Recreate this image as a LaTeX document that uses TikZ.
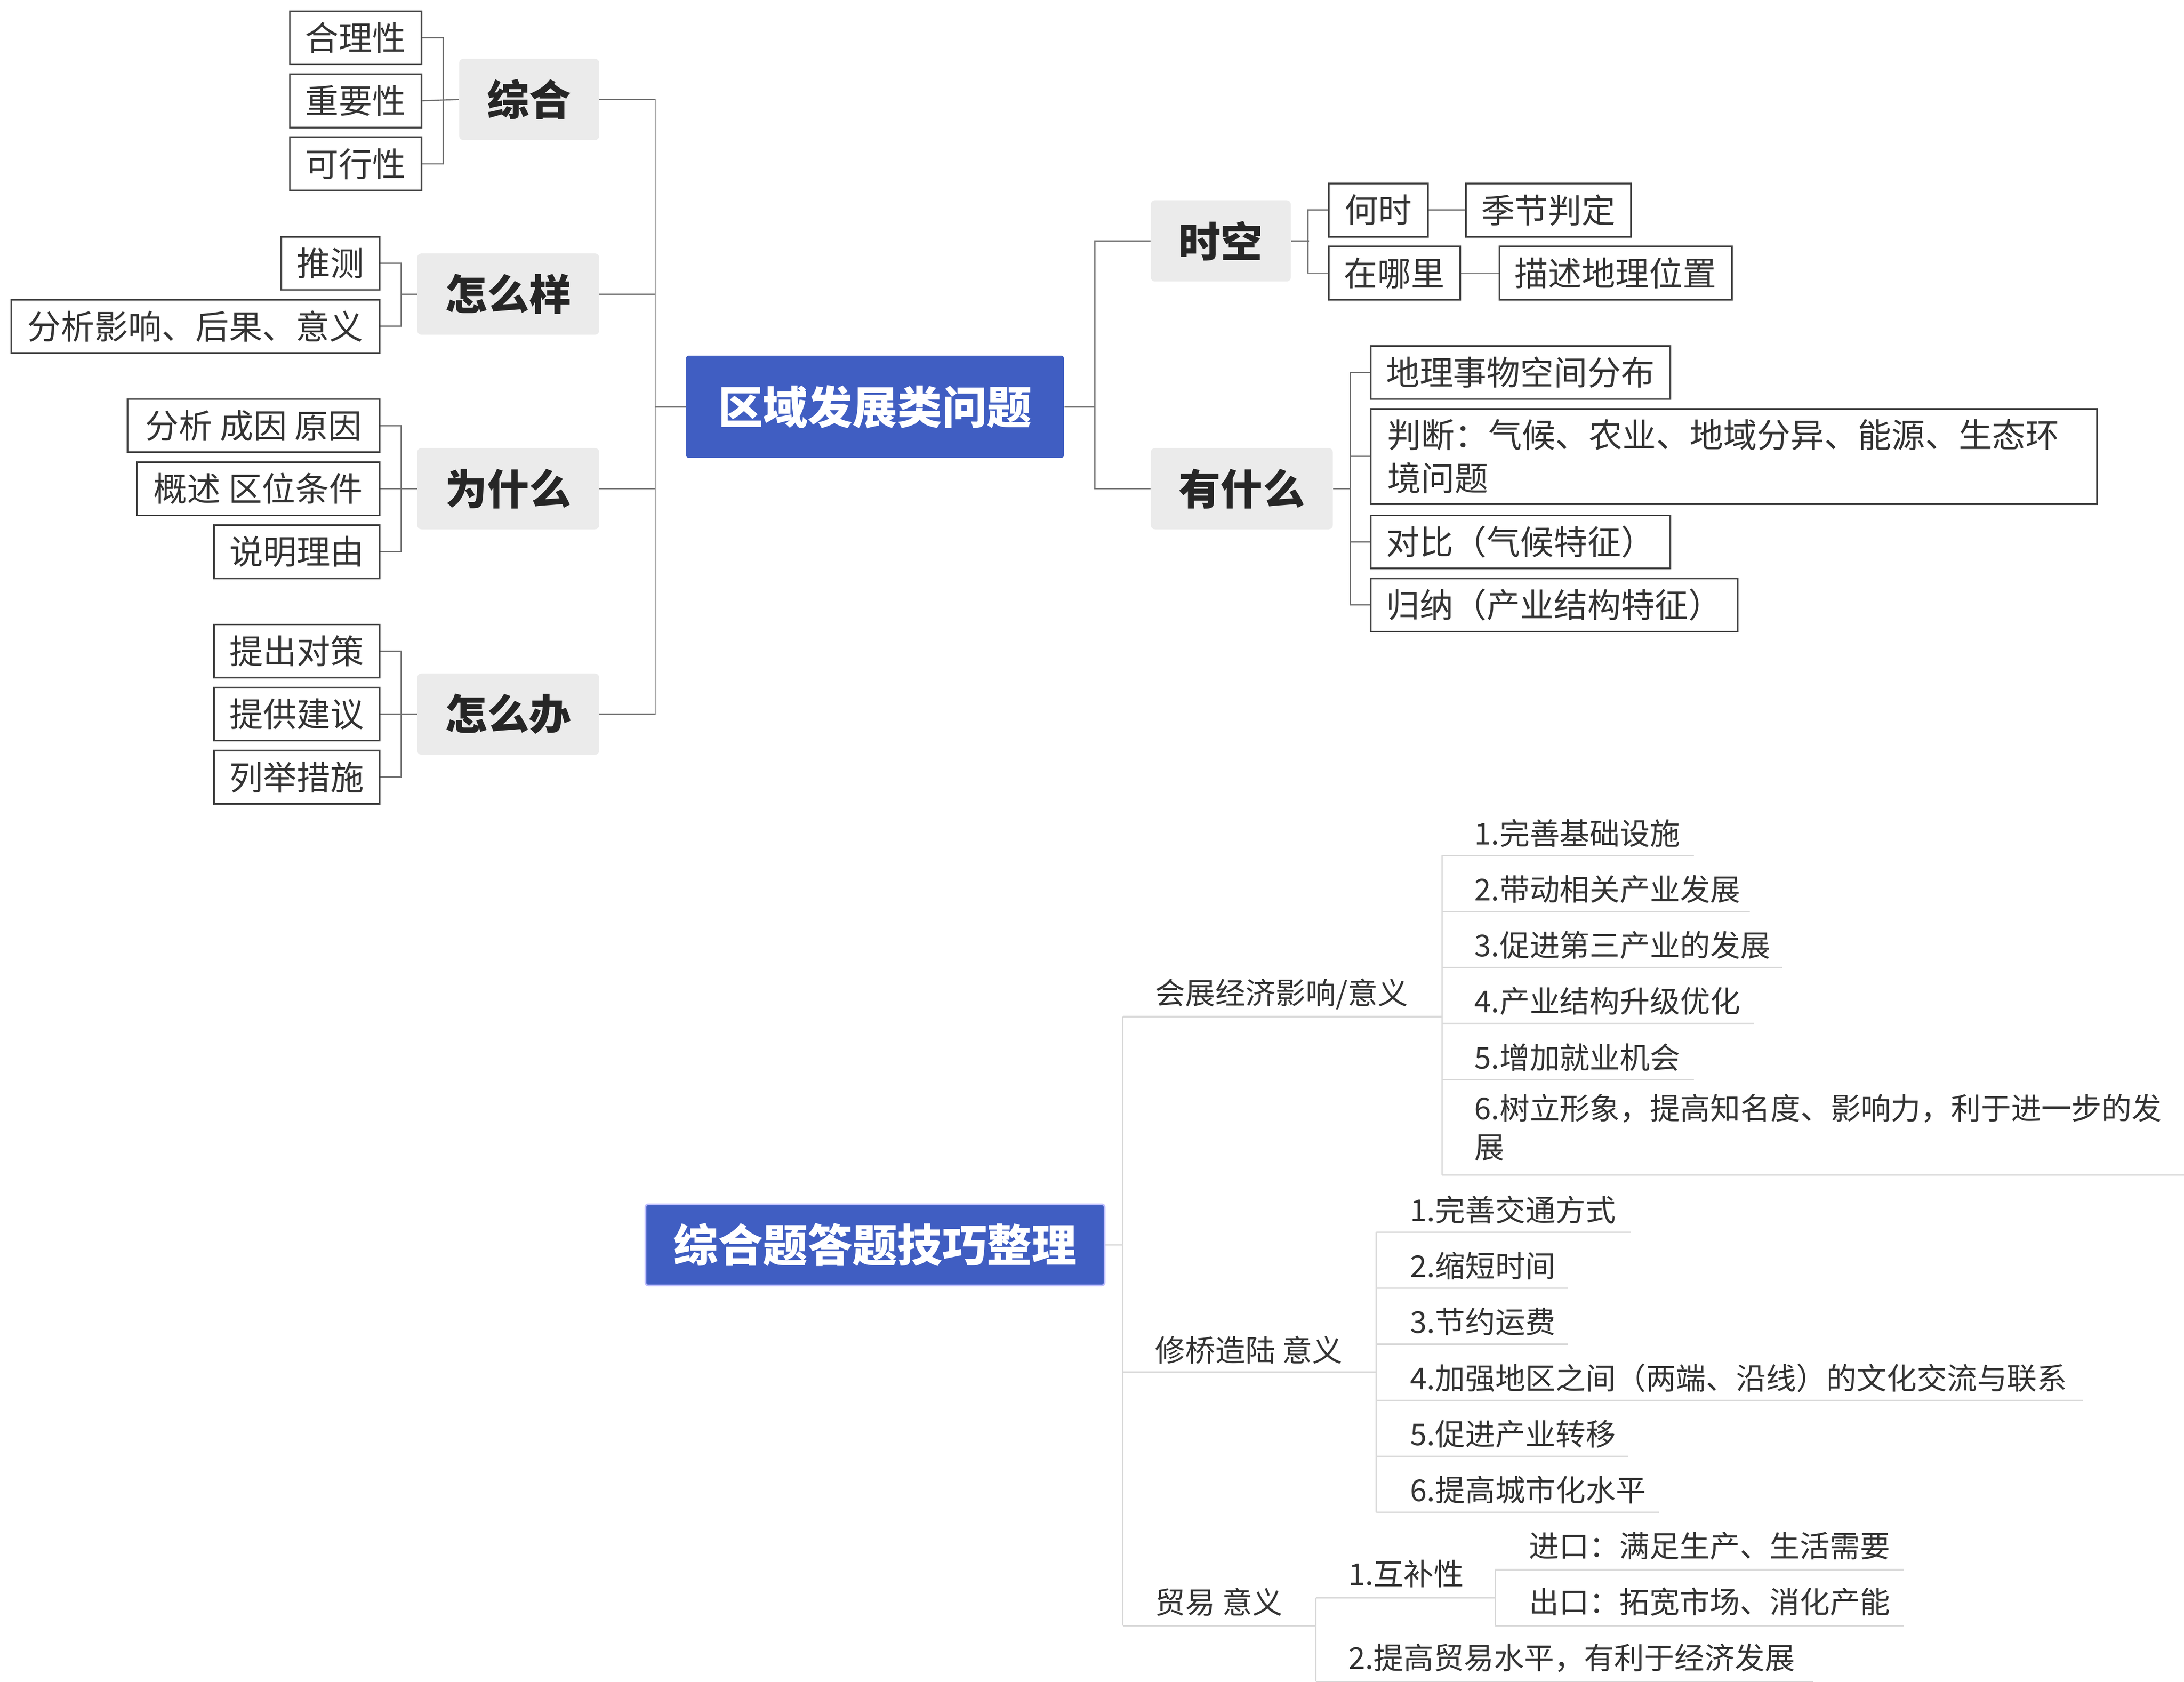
\documentclass[tikz,border=0pt]{standalone}
\usepackage{fontspec}
\setmainfont{Noto Sans CJK SC}
\definecolor{rootc}{RGB}{64,94,194}
\begin{document}
\begin{tikzpicture}[x=1pt,y=-1pt,
 line/.style={draw=black!55,line width=0.9pt},
 ul/.style={draw=black!15,line width=1pt},
 leaf/.style={draw=black!75,line width=1.2pt,fill=white,inner sep=0pt,font=\fontsize{24}{28}\selectfont,text=black!80},
 cat/.style={fill=black!8,inner sep=0pt,rounded corners=3pt,font=\fontsize{30}{32}\selectfont\bfseries,text=black!85},
 root/.style={fill=rootc,inner sep=0pt,rounded corners=2pt,font=\fontsize{32}{34}\selectfont\bfseries,text=white},
 bt/.style={anchor=west,inner sep=0pt,font=\fontsize{21.5}{28}\selectfont,text=black!80}]
\newcommand\bx[7]{\node[#1,minimum width={(#5-#3)*1pt},minimum height={(#6-#4)*1pt}] (#2) at ({(#3+#5)/2},{(#4+#6)/2}) {#7};}
\useasboundingbox[fill=white] (0,0) rectangle (1560,1201);
% top tree
\bx{root}{r}{490}{254}{760}{327}{区域发展类问题}
\bx{cat}{zh}{328}{42}{428}{100}{综合}
\bx{cat}{zmy}{298}{181}{428}{239}{怎么样}
\bx{cat}{wsm}{298}{320}{428}{378}{为什么}
\bx{cat}{zmb}{298}{481}{428}{539}{怎么办}
\bx{cat}{sk}{822}{143}{922}{201}{时空}
\bx{cat}{ysm}{822}{320}{952}{378}{有什么}
\draw[line] (r.west) -- (468,290.5);
\draw[line] (zh.east) -| (468,290.5) (zmy.east) -- (468,210) (wsm.east) -- (468,349);
\draw[line] (zmb.east) -| (468,290.5);
\draw[line] (r.east) -- (782,290.5);
\draw[line] (sk.west) -| (782,290.5) |- (ysm.west);
% leaves
\bx{leaf}{a1}{207}{8}{301}{46}{合理性}
\bx{leaf}{a2}{207}{53}{301}{91}{重要性}
\bx{leaf}{a3}{207}{98}{301}{136}{可行性}
\draw[line] (a1.east) -- ++(15,0) |- (a3.east) (a2.east) -- (zh.west);
\bx{leaf}{b1}{201}{169}{271}{207}{推测}
\bx{leaf}{b2}{8}{214}{271}{252}{分析影响、后果、意义}
\draw[line] (b1.east) -- ++(15,0) |- (b2.east) (286,210) -- (zmy.west);
\bx{leaf}{c1}{91}{285}{271}{323}{分析 成因 原因}
\bx{leaf}{c2}{98}{330}{271}{368}{概述 区位条件}
\bx{leaf}{c3}{153}{375}{271}{413}{说明理由}
\draw[line] (c1.east) -- ++(15,0) |- (c3.east) (c2.east) -- (wsm.west);
\bx{leaf}{d1}{153}{446}{271}{484}{提出对策}
\bx{leaf}{d2}{153}{491}{271}{529}{提供建议}
\bx{leaf}{d3}{153}{536}{271}{574}{列举措施}
\draw[line] (d1.east) -- ++(15,0) |- (d3.east) (d2.east) -- (zmb.west);
\bx{leaf}{e1}{949}{131}{1020}{169}{何时}
\bx{leaf}{e2}{949}{176}{1043}{214}{在哪里}
\bx{leaf}{e3}{1047}{131}{1165}{169}{季节判定}
\bx{leaf}{e4}{1071}{176}{1237}{214}{描述地理位置}
\draw[line] (e1.west) -- ++(-14,0) |- (e2.west) (sk.east) -- (935,172);
\draw[line] (e1.east) -- (e3.west) (e2.east) -- (e4.west);
\bx{leaf}{f1}{979}{247}{1193}{285}{地理事物空间分布}
\node[leaf,minimum width=519pt,minimum height=68pt,text width=495pt,align=left,font=\fontsize{24}{31}\selectfont] (f2) at (1238.5,326) {判断：气候、农业、地域分异、能源、生态环\\境问题};
\bx{leaf}{f3}{979}{368}{1193}{406}{对比（气候特征）}
\bx{leaf}{f4}{979}{413}{1241}{451}{归纳（产业结构特征）}
\draw[line] (f1.west) -- ++(-14,0) |- (f4.west) (965,326) -- (f2.west) (965,387) -- (f3.west) (ysm.east) -- (965,349);
% bottom tree
\node[root,draw=blue!25,line width=1.2pt,minimum width=328pt,minimum height=58pt] (r2) at (625,889) {综合题答题技巧整理};
\draw[ul] (r2.east) -- (802,889);
\draw[ul] (802,726) -- (802,1161);
% branch 1
\node[bt] (h1) at (825,710) {会展经济影响/意义};
\draw[ul] (802,726) -- (1030,726) (1030,611) -- (1030,839);
\foreach \t/\y/\e [count=\i] in {1.完善基础设施/611/1210,2.带动相关产业发展/651/1250,3.促进第三产业的发展/691/1273,4.产业结构升级优化/731/1253,5.增加就业机会/771/1210}{
 \node[bt] (h1\i) at (1053,\y-16) {\t};
 \draw[ul] (1030,\y) -- (\e,\y);}
\node[bt,anchor=north west,text width=500pt,align=left] (h16) at (1053,781) {6.树立形象，提高知名度、影响力，利于进一步的发\\展};
\draw[ul] (1030,839) -- (1560,839);
% branch 2
\node[bt] (h2) at (825,964) {修桥造陆 意义};
\draw[ul] (802,980) -- (983,980) (983,880) -- (983,1080);
\foreach \t/\y/\e [count=\i] in {1.完善交通方式/880/1165,2.缩短时间/920/1120,3.节约运费/960/1120,4.加强地区之间（两端、沿线）的文化交流与联系/1000/1488,5.促进产业转移/1040/1163,6.提高城市化水平/1080/1185}{
 \node[bt] (h2\i) at (1007,\y-16) {\t};
 \draw[ul] (983,\y) -- (\e,\y);}
% branch 3
\node[bt] (h3) at (825,1144) {贸易 意义};
\draw[ul] (802,1161) -- (940,1161) (940,1141) -- (940,1201);
\node[bt] (h31) at (963,1124) {1.互补性};
\draw[ul] (940,1141) -- (1068,1141) (1068,1121) -- (1068,1161);
\node[bt] (h311) at (1092,1104) {进口：满足生产、生活需要};
\node[bt] (h312) at (1092,1144) {出口：拓宽市场、消化产能};
\draw[ul] (1068,1121) -- (1360,1121) (1068,1161) -- (1360,1161);
\node[bt] (h32) at (963,1184) {2.提高贸易水平，有利于经济发展};
\draw[ul] (940,1201) -- (1295,1201);
\end{tikzpicture}
\end{document}
